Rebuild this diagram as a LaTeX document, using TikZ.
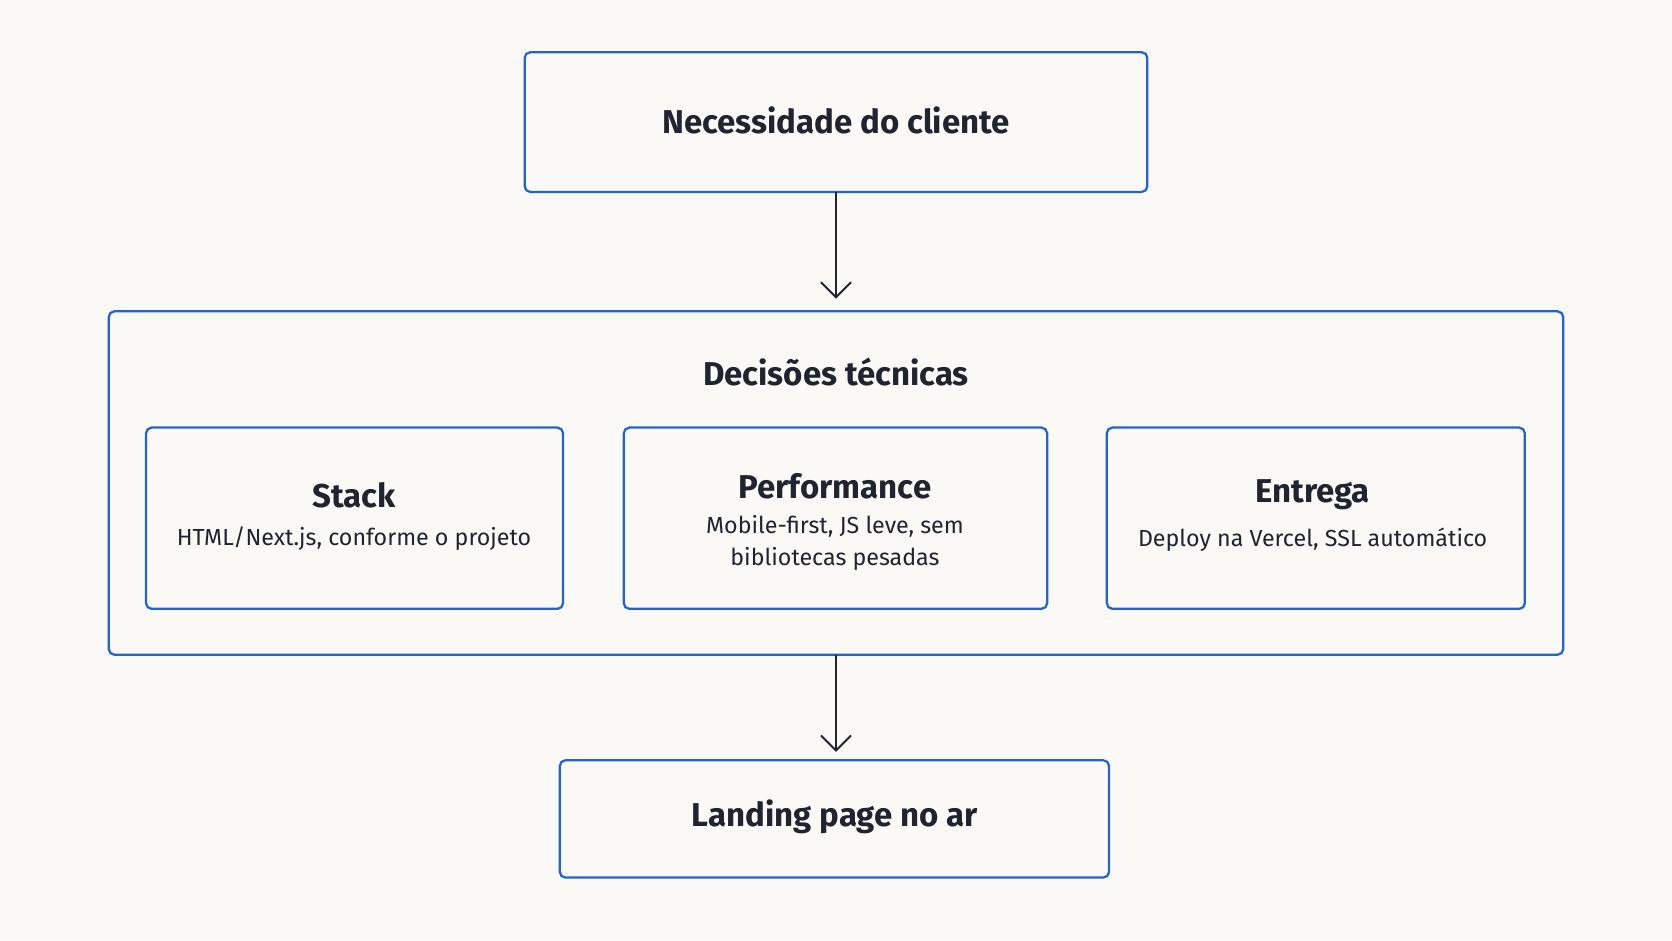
\documentclass[tikz,border=0pt]{standalone}
\usepackage{fontspec}
\setmainfont{Fira Sans}
\usetikzlibrary{arrows.meta}
\definecolor{bg}{HTML}{FAF9F5}
\definecolor{bl}{HTML}{2563C9}
\definecolor{tx}{HTML}{1F2430}
\begin{document}
\begin{tikzpicture}[x=0.01cm,y=-0.01cm,
  box/.style={draw=bl,line width=0.6pt,rounded corners=1.5pt},
  ttl/.style={text=tx,font=\fontsize{8.8}{10}\selectfont\bfseries},
  sub/.style={text=tx,font=\fontsize{6.2}{8.6}\selectfont,align=center},
  arr/.style={draw=tx,line width=0.5pt,-{Straight Barb[length=4pt,width=8pt]}}]
\fill[bg] (0,0) rectangle (1568,882);
\useasboundingbox (0,0) rectangle (1568,882);
\draw[box] (492,49) rectangle (1076,180);
\node[ttl] (top) at (784,113) {Necessidade do cliente};
\draw[box] (102,292) rectangle (1466,614);
\node[ttl] (dec) at (784,349) {Decisões técnicas};
\draw[box] (137,401) rectangle (528,571);
\node[ttl] (s) at (332,464) {Stack};
\node[sub] (s2) at (332,505) {HTML/Next.js, conforme o projeto};
\draw[box] (585,401) rectangle (982,571);
\node[ttl] (p) at (783,456) {Performance};
\node[sub] (p2) at (783,509) {Mobile-first, JS leve, sem\\bibliotecas pesadas};
\draw[box] (1038,401) rectangle (1430,571);
\node[ttl] (e) at (1231,464) {Entrega};
\node[sub] (e2) at (1231,506) {Deploy na Vercel, SSL automático};
\draw[box] (525,713) rectangle (1040,823);
\node[ttl] (b) at (783,766) {Landing page no ar};
\coordinate (a1) at (784,180); \coordinate (a2) at (784,280);
\coordinate (b1) at (784,614); \coordinate (b2) at (784,705);
\draw[arr] (a1) -- (a2);
\draw[arr] (b1) -- (b2);
\end{tikzpicture}
\end{document}
